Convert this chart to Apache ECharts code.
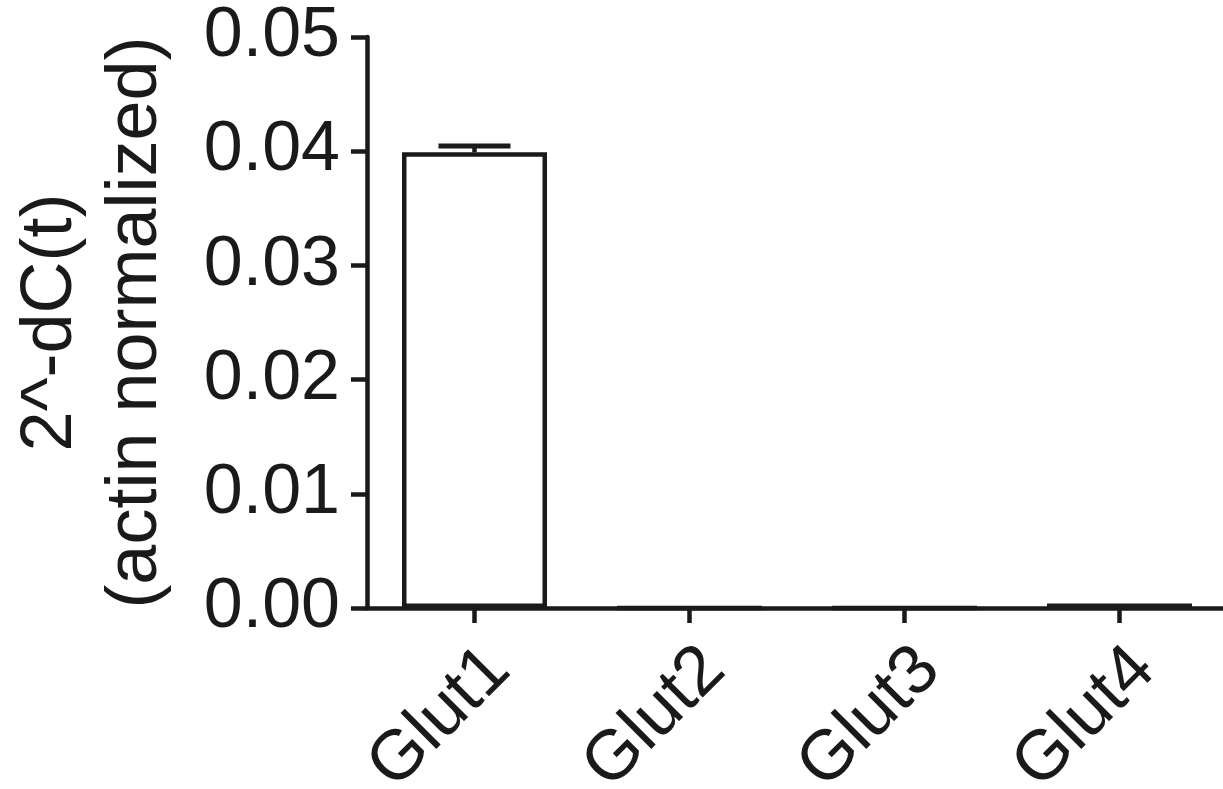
<!DOCTYPE html>
<html>
<head>
<meta charset="utf-8">
<script src="https://cdn.jsdelivr.net/npm/echarts@6/dist/echarts.min.js"></script>
<style>
html,body{margin:0;padding:0;background:#fff;}
#chart{width:1223px;height:789px;}
</style>
</head>
<body>
<div id="chart"></div>
<script>
const categories = ['Glut1', 'Glut2', 'Glut3', 'Glut4'];
const means = [0.0399, 0.00001, 0.00001, 0.0004];
const sems = [0.00055, 0, 0, 0];
const yTicks = [0, 0.01, 0.02, 0.03, 0.04, 0.05];
const yName = '2^-dC(t)\n(actin normalized)';

const ink = '#1a1a1a';
const font = '"Liberation Sans", Arial, Helvetica, sans-serif';

const chart = echarts.init(document.getElementById('chart'), null, {renderer: 'canvas'});
chart.setOption({
  animation: false,
  backgroundColor: '#fff',
  grid: {left: 367, right: -4, top: 37, bottom: 181, containLabel: false, outerBoundsMode: 'none'},
  xAxis: {
    type: 'category',
    data: categories,
    boundaryGap: true,
    axisLine: {show: true, lineStyle: {color: ink, width: 4.5}},
    axisTick: {show: true, alignWithLabel: true, length: 15, lineStyle: {color: ink, width: 4.5}},
    axisLabel: {
      rotate: 45, margin: 26, color: ink, fontSize: 70, fontFamily: font, interval: 0,
      verticalAlign: 'top'
    },
    splitLine: {show: false}
  },
  yAxis: {
    type: 'value',
    min: yTicks[0],
    max: yTicks[yTicks.length - 1],
    interval: 0.01,
    name: yName,
    nameLocation: 'middle',
    nameGap: 188,
    nameRotate: 90,
    nameTextStyle: {color: ink, fontSize: 72, fontFamily: font, lineHeight: 85, align: 'center'},
    axisLine: {show: true, lineStyle: {color: ink, width: 4.5}},
    axisTick: {show: true, length: 16, lineStyle: {color: ink, width: 4.5}},
    axisLabel: {
      margin: 27, color: ink, fontSize: 70, fontFamily: font,
      formatter: v => v.toFixed(2)
    },
    splitLine: {show: false}
  },
  series: [
    {
      type: 'bar',
      data: means,
      barWidth: 145,
      itemStyle: {color: '#ffffff', borderColor: ink, borderWidth: 4.5},
      z: 2
    },
    {
      type: 'custom',
      data: means.map((m, i) => [i, m, sems[i]]),
      z: 3,
      renderItem: function (params, api) {
        const i = api.value(0), m = api.value(1), s = api.value(2);
        if (!s) return null;
        const base = api.coord([i, m]);
        const top = api.coord([i, m + s]);
        const half = 36;
        return {
          type: 'group',
          children: [
            {type: 'line', shape: {x1: base[0], y1: base[1], x2: top[0], y2: top[1]}, style: {stroke: ink, lineWidth: 4.5}},
            {type: 'line', shape: {x1: top[0] - half, y1: top[1], x2: top[0] + half, y2: top[1]}, style: {stroke: ink, lineWidth: 5}}
          ]
        };
      }
    }
  ]
});
</script>
</body>
</html>
